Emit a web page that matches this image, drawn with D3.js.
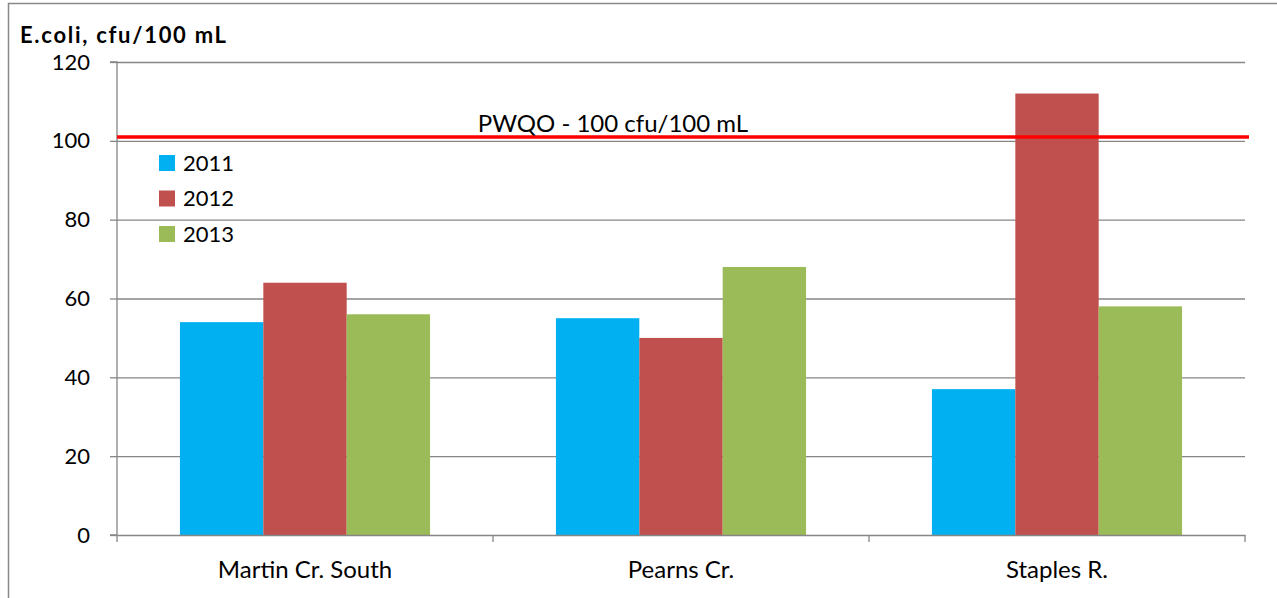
<!DOCTYPE html>
<html><head><meta charset="utf-8">
<script src="https://cdn.jsdelivr.net/npm/d3@7"></script>
<style>body{margin:0;background:#fff}svg{display:block;font-family:Lato,"Open Sans",sans-serif}</style>
</head><body><svg id="c" width="1277" height="598"></svg>
<script>
const categories = ["Martin Cr. South", "Pearns Cr.", "Staples R."];
const series = ["2011", "2012", "2013"];
const values2011 = [54, 55, 37];
const values2012 = [64, 50, 112];
const values2013 = [56, 68, 58];
const yTicks = [0, 20, 40, 60, 80, 100, 120];
const pwqoValue = 101;
const pwqoLabel = "PWQO - 100 cfu/100 mL";
const colors = ["#00B0F0", "#C0504D", "#9BBB59"];
const allValues = [values2011, values2012, values2013];

const svg = d3.select("#c");
const L = 117, R = 1245, T = 62, B = 535;
const FONT = "Lato, 'Open Sans', sans-serif";

// outer border
svg.append("path").attr("d", "M8.5,598 V3.5 H1277").attr("fill","none").attr("stroke","#888").attr("stroke-width",1.5);

const x = d3.scaleBand().domain(categories).range([L, R]).paddingInner(0).paddingOuter(0);
const x1 = d3.scaleBand().domain(series).range([0, x.bandwidth()]).paddingInner(0).paddingOuter(0.755);
const y = d3.scaleLinear().domain([0, 120]).range([B, T]);

// gridlines
svg.append("g").selectAll("line").data(yTicks.filter(d => d > 0)).join("line")
  .attr("x1", L).attr("x2", R).attr("y1", d => y(d)+0.5).attr("y2", d => y(d)+0.5)
  .attr("stroke", "#868686").attr("stroke-width", 1.3);

// bars
series.forEach((s, i) => {
  svg.append("g").selectAll("rect").data(categories).join("rect")
    .attr("x", c => x(c) + x1(s)).attr("width", x1.bandwidth())
    .attr("y", (c, j) => y(allValues[i][j])).attr("height", (c, j) => B - y(allValues[i][j]))
    .attr("fill", colors[i]);
});

// y axis
const ya = svg.append("g").attr("transform", `translate(${L},0)`)
  .call(d3.axisLeft(y).tickValues(yTicks).tickSize(7).tickPadding(20).tickFormat(d3.format("d")));
ya.select(".domain").attr("stroke", "#868686").attr("stroke-width", 1.3).attr("d", `M-7,${T}H0V${B}H-7`);
ya.selectAll(".tick line").attr("stroke", "#868686").attr("stroke-width", 1.3);
ya.selectAll("text").attr("font-size", 22).attr("fill", "#000").attr("font-family", FONT);

// x axis
const xa = svg.append("g").attr("transform", `translate(0,${B})`)
  .call(d3.axisBottom(x).tickSize(0).tickPadding(26));
xa.select(".domain").attr("stroke", "#868686").attr("stroke-width", 1.3);
xa.selectAll("text").attr("font-size", 24).attr("fill", "#000").attr("font-family", FONT);
const bounds = [L].concat(categories.map(c => x(c) + x.bandwidth()));
svg.append("g").selectAll("line").data(bounds).join("line")
  .attr("x1", d => d).attr("x2", d => d).attr("y1", B).attr("y2", B + 7)
  .attr("stroke", "#868686").attr("stroke-width", 1.3);

// PWQO line
svg.append("line").attr("x1", L).attr("x2", 1249).attr("y1", y(pwqoValue)).attr("y2", y(pwqoValue))
  .attr("stroke", "#FF0000").attr("stroke-width", 3.5);
svg.append("text").attr("x", 613).attr("y", y(pwqoValue) - 5).attr("text-anchor", "middle")
  .attr("font-size", 24).text(pwqoLabel);

// title
svg.append("text").attr("x", 20).attr("y", 43).attr("font-size", 22).attr("font-weight", "bold")
  .attr("textLength", 206).attr("lengthAdjust", "spacing").text("E.coli, cfu/100 mL");

// legend
const lg = svg.append("g").selectAll("g").data(series).join("g")
  .attr("transform", (d, i) => `translate(159,${155 + i * 35.5})`);
lg.append("rect").attr("width", 16).attr("height", 16).attr("fill", (d, i) => colors[i]);
lg.append("text").attr("x", 24).attr("y", 8).attr("dy", "0.36em").attr("font-size", 22).text(d => d);
</script></body></html>
